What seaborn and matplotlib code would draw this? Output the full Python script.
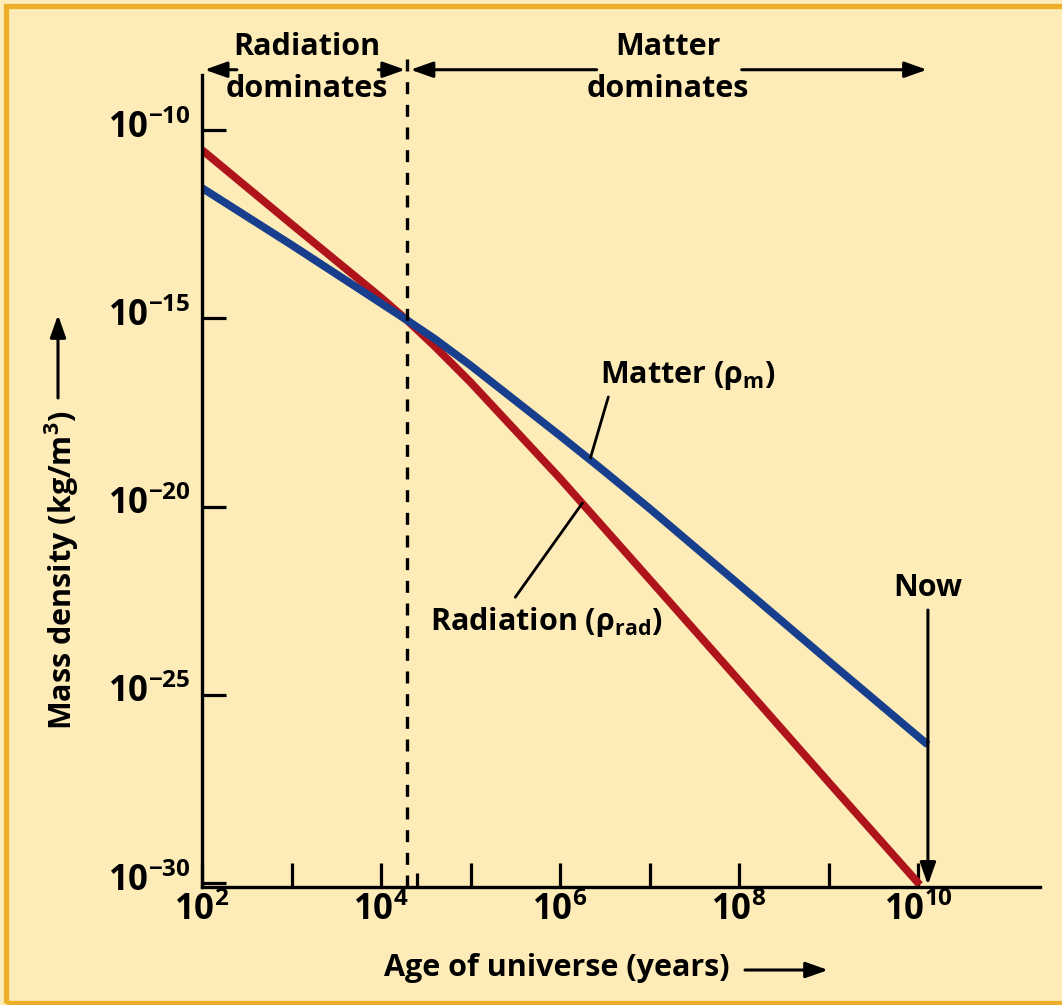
import matplotlib
matplotlib.use("Agg")
import matplotlib.pyplot as plt
import matplotlib.transforms as mtransforms
import seaborn as sns
import pandas as pd
from matplotlib.patches import Rectangle, FancyArrowPatch

# ---------------- data ----------------
age_radiation = [1e2, 1e3, 1e4, 1.95e4, 4e4, 1e5, 1e6, 1e7, 1e8, 1e9, 1.05e10]
rho_radiation = [2.95e-11, 3.16e-13, 3.55e-15, 8.9e-16, 1.78e-16, 2.0e-17,
                 5.6e-20, 1.17e-22, 2.4e-25, 4.8e-28, 8.9e-31]
age_matter = [1e2, 1e3, 1e4, 1.95e4, 4e4, 1e5, 1e6, 2.8e6, 1e7, 1e8, 1e9, 1.29e10]
rho_matter = [2.88e-12, 8.9e-14, 2.51e-15, 8.9e-16, 2.82e-16, 5.6e-17,
              7.6e-19, 1.07e-19, 8.9e-21, 8.5e-23, 7.94e-25, 4.68e-27]

equality_age = 1.95e4
now_age = 1.29e10

x_major_ticks = [1e2, 1e4, 1e6, 1e8, 1e10]
x_major_labels = ["$10^{2}$", "$10^{4}$", "$10^{6}$", "$10^{8}$", "$10^{10}$"]
x_minor_ticks = [1e3, 1e5, 1e7, 1e9]
y_ticks = [1e-10, 1e-15, 1e-20, 1e-25, 1e-30]
y_labels = ["$10^{-10}$", "$10^{-15}$", "$10^{-20}$", "$10^{-25}$", "$10^{-30}$"]

# ---------------- style ----------------
BG = "#FDEBB8"
ORANGE = "#EDAE2A"
RED = "#B0141B"
BLUE = "#183E8E"
FONT = "Open Sans"

sns.set_theme(style="ticks")
plt.rcParams["font.family"] = [FONT, "DejaVu Sans"]
plt.rcParams["font.weight"] = "bold"
plt.rcParams["text.color"] = "black"
plt.rcParams["axes.labelcolor"] = "black"
plt.rcParams["xtick.color"] = "black"
plt.rcParams["ytick.color"] = "black"
plt.rcParams["mathtext.fontset"] = "custom"
plt.rcParams["mathtext.rm"] = "Open Sans:bold"
plt.rcParams["mathtext.bf"] = "Open Sans:bold"
plt.rcParams["mathtext.it"] = "Open Sans:bold:italic"
plt.rcParams["mathtext.default"] = "rm"

W, H = 1062, 1005
fig = plt.figure(figsize=(W / 100, H / 100), dpi=100, facecolor=BG)

L, R, B, T = 202, 1040, 887, 75
ax = fig.add_axes([L / W, 1 - B / H, (R - L) / W, (B - T) / H])
ax.set_facecolor("none")

df = pd.concat([
    pd.DataFrame({"age": age_radiation, "rho": rho_radiation, "kind": "Radiation"}),
    pd.DataFrame({"age": age_matter, "rho": rho_matter, "kind": "Matter"}),
])
sns.lineplot(data=df, x="age", y="rho", hue="kind", palette={"Radiation": RED, "Matter": BLUE},
             hue_order=["Radiation", "Matter"], estimator=None, sort=False, lw=5.6,
             legend=False, ax=ax, solid_capstyle="butt", solid_joinstyle="round")

ax.set_xscale("log")
ax.set_yscale("log")
ax.set_xlim(1e2, 10 ** 11.363)
ax.set_ylim(10 ** -30.106, 10 ** -8.539)

for s in ["top", "right"]:
    ax.spines[s].set_visible(False)
for s in ["left", "bottom"]:
    ax.spines[s].set_linewidth(2.4)
    ax.spines[s].set_color("black")

ax.set_xticks(x_major_ticks)
ax.set_xticklabels(x_major_labels)
ax.set_xticks(x_minor_ticks + [2.5e4], minor=True)
ax.set_xticklabels([], minor=True)
ax.set_yticks(y_ticks)
ax.set_yticklabels(y_labels)
ax.yaxis.set_minor_locator(matplotlib.ticker.NullLocator())

ax.tick_params(axis="both", which="major", direction="in", length=17, width=2.3,
               labelsize=25, color="black", labelcolor="black")
ax.tick_params(axis="x", which="major", pad=4)
ax.tick_params(axis="y", which="major", pad=8)
ax.tick_params(axis="x", which="minor", direction="in", length=17, width=2.3, color="black")
ax.xaxis.get_minor_ticks()[-1].tick1line.set_markersize(10)
ax.set_xlabel("")
ax.set_ylabel("")

# nudge the y tick labels slightly upward, as in the reference
shift_up = mtransforms.ScaledTranslation(0, 6 / 100, fig.dpi_scale_trans)
for lab in ax.get_yticklabels():
    lab.set_transform(lab.get_transform() + shift_up)

# dashed divider
ax.axvline(equality_age, ymin=0, ymax=1.031, color="black", lw=2.4,
           linestyle=(0, (3.6, 3.2)), clip_on=False)

# header arrows and text
head = "-|>,head_length=0.9,head_width=0.32"
arrow_kw = dict(arrowstyle=head, color="black", lw=2.2, shrinkA=0, shrinkB=0, mutation_scale=15)
yb = ("data", "axes fraction")
yarr = 1.0065
for tail, tip in [(10 ** 2.39, 10 ** 2.03), (10 ** 3.97, 10 ** 4.27),
                  (10 ** 6.41, 10 ** 4.33), (10 ** 8.03, 10 ** 10.1)]:
    ax.annotate("", xy=(tip, yarr), xytext=(tail, yarr), xycoords=yb, textcoords=yb,
                arrowprops=arrow_kw, annotation_clip=False)

TXT = 22
hdr = dict(fontsize=TXT, fontweight="bold", ha="center", va="center",
           transform=ax.get_xaxis_transform(), clip_on=False)
ax.text(10 ** 3.17, 1.035, "Radiation", **hdr)
ax.text(10 ** 3.17, 0.983, "dominates", **hdr)
ax.text(10 ** 7.21, 1.035, "Matter", **hdr)
ax.text(10 ** 7.21, 0.983, "dominates", **hdr)

# curve labels with leader lines
ax.text(10 ** 6.45, 10 ** -16.51, "Matter (ρ$_{\\mathregular{m}}$)", fontsize=TXT,
        fontweight="bold", ha="left", va="center")
ax.annotate("", xy=(10 ** 6.34, 10 ** -18.71), xytext=(10 ** 6.54, 10 ** -17.09),
            arrowprops=dict(arrowstyle="-", lw=2.0, color="black", shrinkA=0, shrinkB=0))
ax.text(10 ** 4.55, 10 ** -23.07, "Radiation (ρ$_{\\mathregular{rad}}$)", fontsize=TXT,
        fontweight="bold", ha="left", va="center")
ax.annotate("", xy=(10 ** 6.25, 10 ** -19.91), xytext=(10 ** 5.50, 10 ** -22.41),
            arrowprops=dict(arrowstyle="-", lw=2.0, color="black", shrinkA=0, shrinkB=0))

# Now marker
ax.text(now_age, 10 ** -22.16, "Now", fontsize=TXT, fontweight="bold", ha="center", va="center")
ax.annotate("", xy=(now_age, 10 ** -30.05), xytext=(now_age, 10 ** -22.75),
            arrowprops=dict(arrowstyle=head, color="black", lw=2.2, shrinkA=0, shrinkB=0,
                            mutation_scale=15))

# axis titles with arrows
fig.text(557 / W, 1 - 968 / H, "Age of universe (years)", fontsize=TXT, fontweight="bold",
         ha="center", va="center")
fig.add_artist(FancyArrowPatch(
    (745 / W, 1 - 970 / H), (828 / W, 1 - 970 / H), transform=fig.transFigure,
    arrowstyle=head, mutation_scale=15, lw=2.2, color="black", shrinkA=0, shrinkB=0))
fig.text(62 / W, 1 - 570 / H, "Mass density (kg/m$^{3}$)", fontsize=TXT, fontweight="bold",
         ha="center", va="center", rotation=90)
fig.add_artist(FancyArrowPatch(
    (58 / W, 1 - 398 / H), (58 / W, 1 - 315 / H), transform=fig.transFigure,
    arrowstyle=head, mutation_scale=15, lw=2.2, color="black", shrinkA=0, shrinkB=0))

# orange frame
fig.add_artist(Rectangle((5.5 / W, 2 / H), 1.2, (1003 - 6.5) / H, transform=fig.transFigure,
                         fill=False, edgecolor=ORANGE, lw=3.8, clip_on=False))

fig.savefig("out.png", dpi=100, facecolor=BG)
